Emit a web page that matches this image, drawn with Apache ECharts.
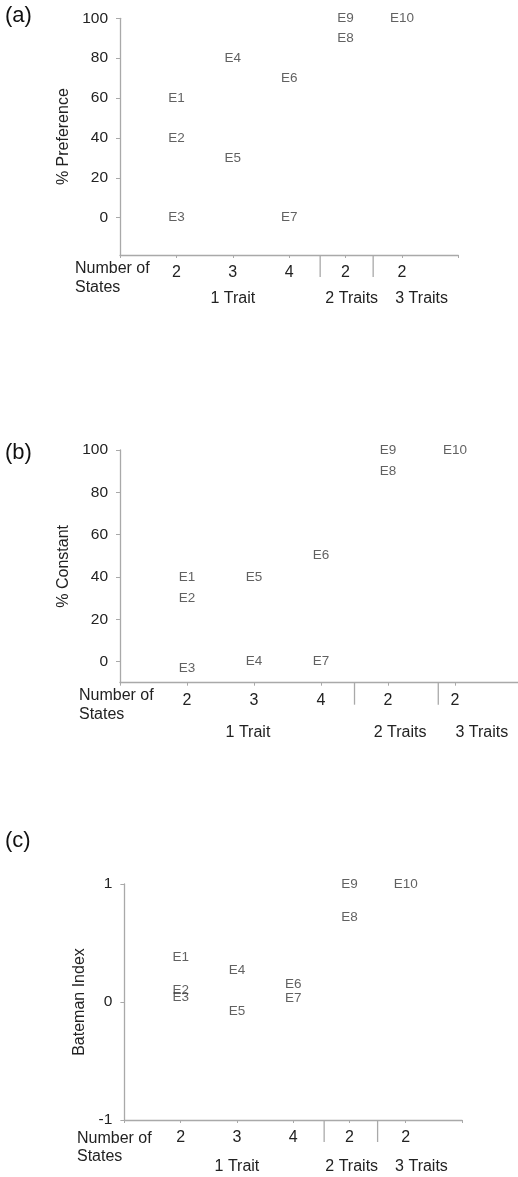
<!DOCTYPE html>
<html><head><meta charset="utf-8">
<style>html,body{margin:0;padding:0;background:#fff}#c{width:518px;height:1177px}</style>
<script src="https://cdn.jsdelivr.net/npm/echarts@6/dist/echarts.min.js"></script>
</head><body><div id="c"></div>
<script>
// ---- data ----
const stateLabels = ['2', '3', '4', '2', '2'];
const groupLabels = ['1 Trait', '2 Traits', '3 Traits'];
const pointNames = ['E1', 'E2', 'E3', 'E4', 'E5', 'E6', 'E7', 'E8', 'E9', 'E10'];
const pointCategory = [1, 1, 1, 2, 2, 3, 3, 4, 4, 5];
const preference = [60, 40, 0, 80, 30, 70, 0, 90, 100, 100];
const constant = [40, 30, -3, 0, 40, 50, 0, 90, 100, 100];
const bateman = [0.38, 0.1, 0.04, 0.27, -0.08, 0.15, 0.03, 0.72, 1, 1];
const yTicksPct = [0, 20, 40, 60, 80, 100];
const yTicksBateman = [-1, 0, 1];

const FONT = "'Liberation Sans', Arial, sans-serif";
const AXIS = '#a9a9a9';
const TXT = '#222';

const panels = [
  { letter: '(a)', letterY: 18, title: '% Preference', values: preference, yTicks: yTicksPct,
    grid: { left: 120, top: 18.3, width: 338.3, height: 236.7 }, ymin: -18.75, ymax: 100, xmax: 6,
    nameGap: 46, seps: [3.55, 4.49], sepLen: 22, groupX: [2.0, 4.11, 5.35], groupDy: 44, nosDy: [14, 33], nosX: 75 },
  { letter: '(b)', letterY: 455, title: '% Constant', values: constant, yTicks: yTicksPct,
    grid: { left: 120, top: 450, width: 398, height: 232.7 }, ymin: -10, ymax: 100, xmax: 5.94,
    nameGap: 46, seps: [3.5, 4.75], sepLen: 22, groupX: [1.91, 4.18, 5.4], groupDy: 50, nosDy: [13, 32], nosX: 79 },
  { letter: '(c)', letterY: 843, title: 'Bateman Index', values: bateman, yTicks: yTicksBateman,
    grid: { left: 124.4, top: 884, width: 337.6, height: 236 }, ymin: -1, ymax: 1, xmax: 6,
    nameGap: 33, seps: [3.55, 4.5], sepLen: 22, groupX: [2.0, 4.04, 5.28], groupDy: 47, nosDy: [19, 37], nosX: 77 }
];

const chart = echarts.init(document.getElementById('c'), null, { renderer: 'canvas' });

const option = {
  animation: false,
  backgroundColor: '#fff',
  grid: panels.map(p => Object.assign({ containLabel: false }, p.grid)),
  xAxis: panels.map((p, i) => ({
    type: 'value', gridIndex: i, min: 0, max: p.xmax,
    axisLine: { show: true, onZero: false, lineStyle: { color: AXIS, width: 1.3 } },
    axisTick: { show: true, customValues: [0, 1, 2, 3, 4, 5, 6].filter(v => v <= p.xmax), length: 3, lineStyle: { color: AXIS } },
    axisLabel: {
      customValues: [1, 2, 3, 4, 5],
      formatter: v => stateLabels[Math.round(v) - 1] || '',
      color: TXT, fontFamily: FONT, fontSize: 16, margin: 10
    },
    splitLine: { show: false }
  })),
  yAxis: panels.map((p, i) => ({
    type: 'value', gridIndex: i, min: p.ymin, max: p.ymax,
    name: p.title, nameLocation: 'middle', nameGap: p.nameGap, nameRotate: 90,
    nameTextStyle: { color: TXT, fontFamily: FONT, fontSize: 16 },
    axisLine: { show: true, onZero: false, lineStyle: { color: AXIS, width: 1.3 } },
    axisTick: { show: true, customValues: p.yTicks, length: 4, lineStyle: { color: AXIS } },
    axisLabel: { customValues: p.yTicks, color: TXT, fontFamily: FONT, fontSize: 15.5, margin: 12 },
    splitLine: { show: false }
  })),
  series: panels.map((p, i) => ({
    type: 'scatter', xAxisIndex: i, yAxisIndex: i,
    symbolSize: 0.1,
    itemStyle: { color: 'transparent' },
    label: {
      show: true, position: 'inside', formatter: '{b}',
      color: '#3a3a3a', fontFamily: FONT, fontSize: 13.5
    },
    labelLayout: { hideOverlap: false },
    data: pointNames.map((n, k) => ({ name: n, value: [pointCategory[k], p.values[k]] }))
  }))
};
chart.setOption(option);

// decorations positioned through the axes
const graphics = [];
panels.forEach((p, i) => {
  const axisY = chart.convertToPixel({ yAxisIndex: i }, p.ymin);
  graphics.push({
    type: 'text', left: 5, top: p.letterY - 13,
    style: { text: p.letter, fontSize: 22, fontFamily: FONT, fill: '#111' }
  });
  p.seps.forEach(s => {
    const x = chart.convertToPixel({ xAxisIndex: i }, s);
    graphics.push({ type: 'line', shape: { x1: x, y1: axisY, x2: x, y2: axisY + p.sepLen },
      style: { stroke: AXIS, lineWidth: 1.3 } });
  });
  groupLabels.forEach((g, k) => {
    const x = chart.convertToPixel({ xAxisIndex: i }, p.groupX[k]);
    graphics.push({ type: 'text', x: x, y: axisY + p.groupDy,
      style: { text: g, fontSize: 16, fontFamily: FONT, fill: TXT, align: 'center', verticalAlign: 'middle' } });
  });
  graphics.push({ type: 'text', x: p.nosX, y: axisY + p.nosDy[0],
    style: { text: 'Number of', fontSize: 16, fontFamily: FONT, fill: TXT, align: 'left', verticalAlign: 'middle' } });
  graphics.push({ type: 'text', x: p.nosX, y: axisY + p.nosDy[1],
    style: { text: 'States', fontSize: 16, fontFamily: FONT, fill: TXT, align: 'left', verticalAlign: 'middle' } });
});
chart.setOption({ graphic: graphics });
</script>
</body></html>
